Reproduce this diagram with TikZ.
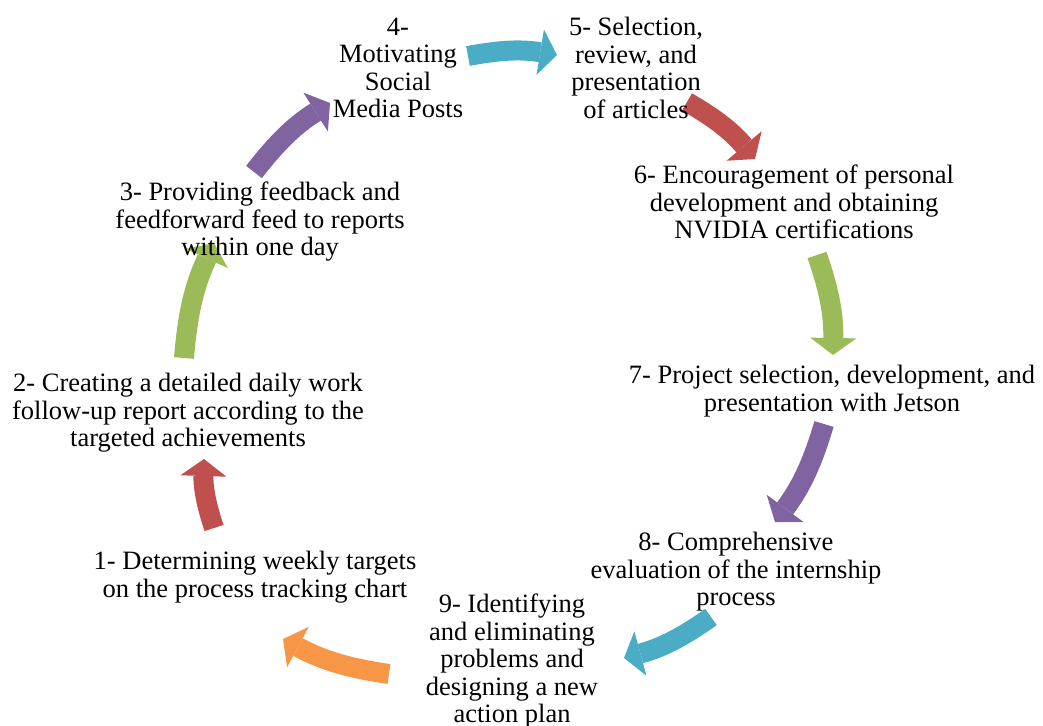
\documentclass[tikz,border=0pt]{standalone}
\usepackage{fontspec}
\setmainfont{Liberation Serif}
\usetikzlibrary{arrows.meta}
\definecolor{cred}{HTML}{C0504D}
\definecolor{cgreen}{HTML}{9BBB59}
\definecolor{cpurple}{HTML}{8064A2}
\definecolor{cteal}{HTML}{4BACC6}
\definecolor{corange}{HTML}{F79646}
\begin{document}
\begin{tikzpicture}[x=1pt,y=-1pt,
  lbl/.style={align=center, inner sep=0pt, font=\fontsize{26.5}{27.5}\selectfont},
  cyc/.style={line width=20pt, -{Triangle[width=46pt,length=17pt,line width=0pt]}, bend left=10}]
\useasboundingbox (0,0) rectangle (1043,725);
% arrow end points
\coordinate (a12s) at (214,528); \coordinate (a12e) at (204,459);
\coordinate (a23s) at (184,358); \coordinate (a23e) at (214,243);
\coordinate (a34s) at (254,172); \coordinate (a34e) at (330,103);
\coordinate (a45s) at (468,56);  \coordinate (a45e) at (557,55);
\coordinate (a56s) at (687,102); \coordinate (a56e) at (755,159);
\coordinate (a67s) at (817,255); \coordinate (a67e) at (833,355);
\coordinate (a78s) at (824,424); \coordinate (a78e) at (775,522);
\coordinate (a89s) at (711,617); \coordinate (a89e) at (624,658);
\coordinate (a91s) at (389,674); \coordinate (a91e) at (283,639);
% arrows
\draw[cyc, cred]    (a12s) to (a12e);
\draw[cyc, cgreen]  (a23s) to (a23e);
\draw[cyc, cpurple] (a34s) to (a34e);
\draw[cyc, cteal]   (a45s) to (a45e);
\draw[cyc, cred]    (a56s) to (a56e);
\draw[cyc, cgreen]  (a67s) to (a67e);
\draw[cyc, cpurple] (a78s) to (a78e);
\draw[cyc, cteal]   (a89s) to (a89e);
\draw[cyc, corange] (a91s) to (a91e);
% texts
\node[lbl] (t1) at (255,577) {1- Determining weekly targets\\on the process tracking chart};
\node[lbl] (t2) at (188,413) {2- Creating a detailed daily work\\follow-up report according to the\\targeted achievements};
\node[lbl] (t3) at (260,222) {3- Providing feedback and\\feedforward feed to reports\\within one day};
\node[lbl] (t4) at (398,68) {4-\\Motivating\\Social\\Media Posts};
\node[lbl] (t5) at (636,68) {5- Selection,\\review, and\\presentation\\of articles};
\node[lbl] (t6) at (794,202) {6- Encouragement of personal\\development and obtaining\\NVIDIA certifications};
\node[lbl] (t7) at (832,391) {7- Project selection, development, and\\presentation with Jetson};
\node[lbl] (t8) at (736,572) {8- Comprehensive\\evaluation of the internship\\process};
\node[lbl] (t9) at (512,661) {9- Identifying\\and eliminating\\problems and\\designing a new\\action plan};
\end{tikzpicture}
\end{document}
